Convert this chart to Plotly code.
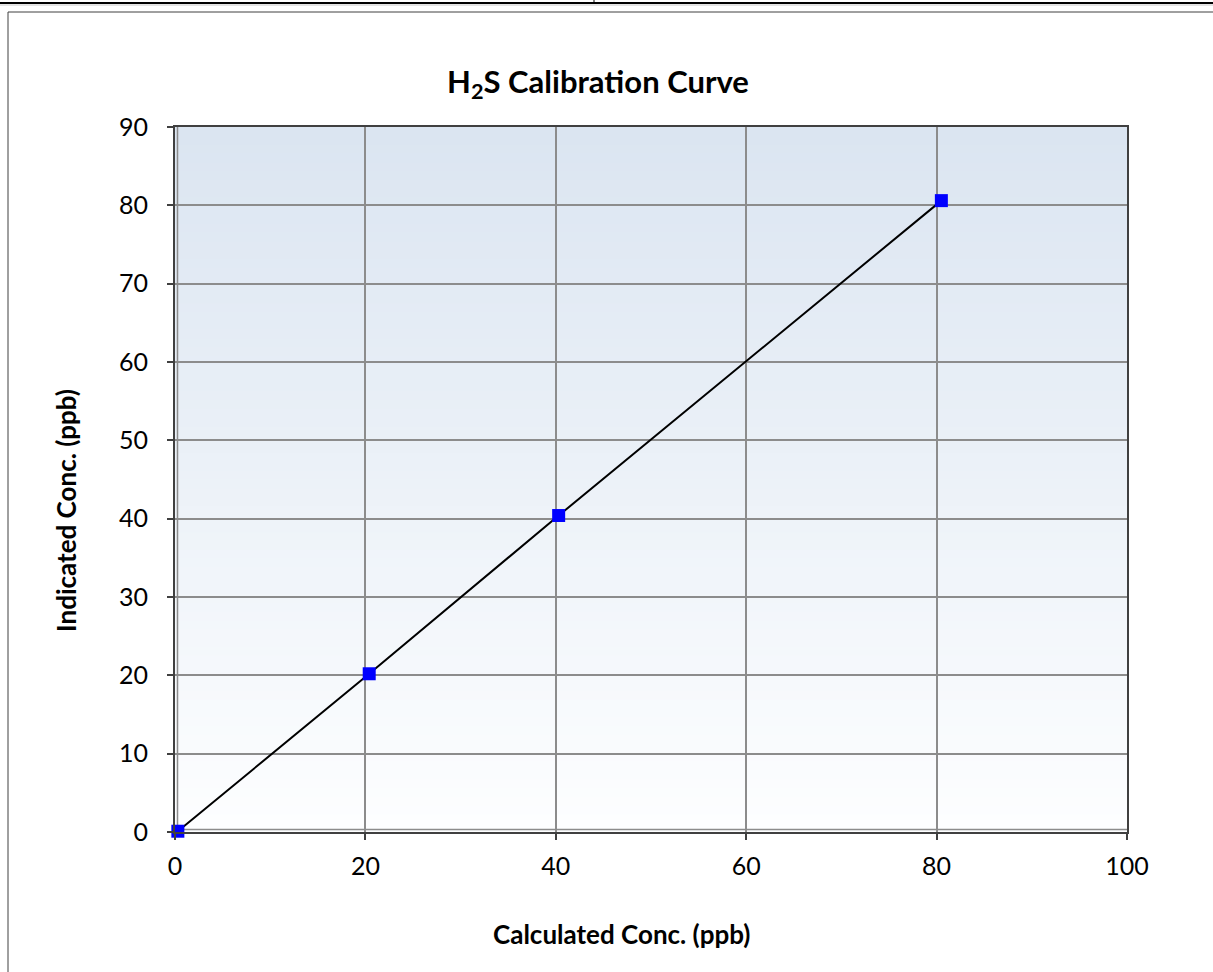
import plotly.graph_objects as go

# ---------------------------------------------------------------
#                         Data
# ---------------------------------------------------------------
calculated_ppb = [0.3, 20.4, 40.3, 80.5]
indicated_ppb = [0.1, 20.2, 40.4, 80.6]

x_ticks = [0, 20, 40, 60, 80, 100]
y_ticks = [0, 10, 20, 30, 40, 50, 60, 70, 80, 90]

title_text = "H<sub>2</sub>S Calibration Curve"
x_title = "Calculated Conc. (ppb)"
y_title = "Indicated Conc. (ppb)"

# ---------------------------------------------------------------
#                         Layout numbers (px)
# ---------------------------------------------------------------
W, H = 1213, 972
L, R, T, B = 175, 1127, 127, 832
pw, ph = R - L, B - T


def px_x(p):
    return (p - L) / pw


def px_y(p):
    return (B - p) / ph


fig = go.Figure()

fig.add_trace(go.Scatter(
    x=calculated_ppb,
    y=indicated_ppb,
    mode="lines+markers",
    line=dict(color="black", width=2),
    marker=dict(symbol="square", size=13, color="#0000ff"),
    cliponaxis=False,
    showlegend=False,
    hoverinfo="x+y",
))

# gradient plot background (Excel style), light blue at top to white at bottom
top_rgb = (219, 229, 241)
bot_rgb = (253, 254, 255)
n_bands = 80
shapes = []
for i in range(n_bands):
    f = i / (n_bands - 1)
    c = tuple(round(bot_rgb[k] + (top_rgb[k] - bot_rgb[k]) * f) for k in range(3))
    shapes.append(dict(
        type="rect", xref="x domain", yref="y domain",
        x0=0, x1=1, y0=i / n_bands, y1=(i + 1) / n_bands + 0.002,
        fillcolor="rgb(%d,%d,%d)" % c, line=dict(width=0), layer="below",
    ))

# page frame lines and chart border
shapes += [
    dict(type="line", xref="paper", yref="paper",
         x0=px_x(0), x1=px_x(W), y0=px_y(3), y1=px_y(3), line=dict(color="black", width=2)),
    dict(type="line", xref="paper", yref="paper",
         x0=px_x(594), x1=px_x(594), y0=px_y(0), y1=px_y(3), line=dict(color="black", width=1)),
    dict(type="line", xref="paper", yref="paper",
         x0=px_x(0), x1=px_x(W), y0=px_y(5), y1=px_y(5), line=dict(color="#c8c8c8", width=1)),
    dict(type="line", xref="paper", yref="paper",
         x0=px_x(8), x1=px_x(W), y0=px_y(12), y1=px_y(12), line=dict(color="#404040", width=1)),
    dict(type="line", xref="paper", yref="paper",
         x0=px_x(8), x1=px_x(8), y0=px_y(12), y1=px_y(H), line=dict(color="#404040", width=1)),
    # second thin line just inside the left / bottom axes, as in the Excel chart
    dict(type="line", xref="paper", yref="paper", layer="between",
         x0=px_x(L + 2.5), x1=px_x(L + 2.5), y0=0, y1=1, line=dict(color="#8c8c8c", width=1.5)),
    dict(type="line", xref="paper", yref="paper", layer="between",
         x0=0, x1=1, y0=px_y(B - 2.5), y1=px_y(B - 2.5), line=dict(color="#8c8c8c", width=1.5)),
]

axis_common = dict(
    showline=True, mirror=True, linecolor="#404040", linewidth=2,
    showgrid=True, gridcolor="#8c8c8c", gridwidth=1.5,
    ticks="outside", ticklen=6, tickcolor="#404040", tickwidth=1.5,
    zeroline=False,
    tickfont=dict(family="Lato", size=25, color="black"),
)

fig.update_xaxes(range=[0, 100], tickvals=x_ticks, ticklabelstandoff=5, **axis_common)
fig.update_yaxes(range=[0, 90], tickvals=y_ticks, ticklabelstandoff=14, **axis_common)

fig.update_layout(
    width=W, height=H,
    margin=dict(l=L, r=W - R, t=T, b=H - B),
    paper_bgcolor="white",
    plot_bgcolor="white",
    font=dict(family="Lato", color="black"),
    title=dict(
        text=title_text, xref="container", yref="container",
        x=598 / W, y=1 - 82 / H, xanchor="center", yanchor="middle",
        font=dict(family="Lato", size=31, color="black", weight="bold"),
    ),
    shapes=shapes,
    annotations=[
        dict(text="<b>" + x_title + "</b>", xref="paper", yref="paper",
             x=px_x(621), y=px_y(934), xanchor="center", yanchor="middle",
             showarrow=False, font=dict(family="Lato", size=26)),
        dict(text="<b>" + y_title + "</b>", xref="paper", yref="paper",
             x=px_x(66), y=px_y(511), xanchor="center", yanchor="middle",
             textangle=-90, showarrow=False, font=dict(family="Lato", size=26)),
    ],
)

# the page body has a default 8px margin; drop it so the figure sits at the window corner
fig.write_html("out.html", config={"displayModeBar": False},
               post_script="document.body.style.margin='0';")
